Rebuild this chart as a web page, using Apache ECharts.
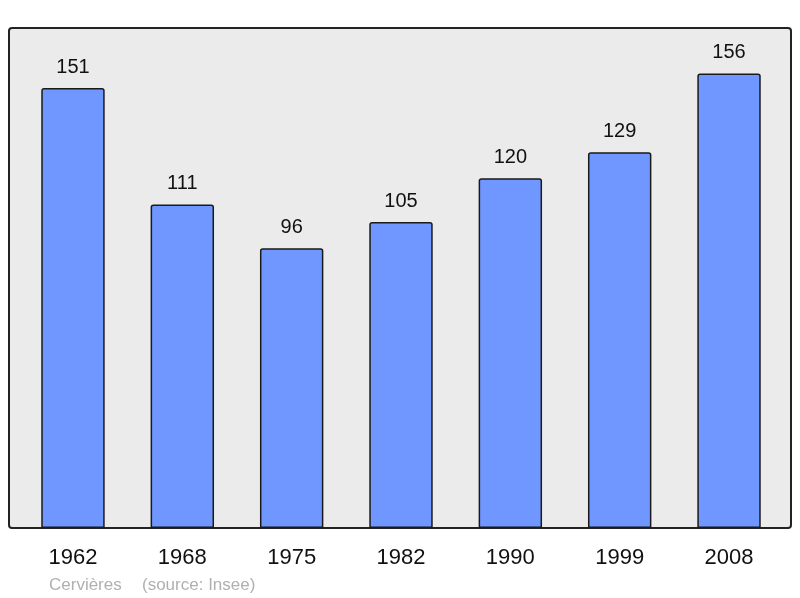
<!DOCTYPE html>
<html>
<head>
<meta charset="utf-8">
<script src="https://cdn.jsdelivr.net/npm/echarts@6/dist/echarts.min.js"></script>
<style>
  html, body { margin: 0; padding: 0; background: #fff; }
  #chart { width: 800px; height: 598px; }
</style>
</head>
<body>
<div id="chart"></div>
<script>
// population by census year
const years = ["1962", "1968", "1975", "1982", "1990", "1999", "2008"];
const population = [151, 111, 96, 105, 120, 129, 156];

const chart = echarts.init(document.getElementById("chart"));
chart.setOption({
  animation: false,
  backgroundColor: "#ffffff",
  textStyle: { fontFamily: "Liberation Sans, Arial, sans-serif" },
  graphic: [
    {
      type: "rect",
      z: -10,
      shape: { x: 9, y: 28, width: 782, height: 500, r: 3 },
      style: { fill: "#ebebeb", stroke: "#222222", lineWidth: 2 }
    },
    {
      type: "text",
      left: 49,
      top: 577,
      style: { text: "Cervières", fill: "#b0b0b0", fontSize: 17, fontFamily: "Liberation Sans, Arial, sans-serif" }
    },
    {
      type: "text",
      left: 142,
      top: 577,
      style: { text: "(source: Insee)", fill: "#b0b0b0", fontSize: 17, fontFamily: "Liberation Sans, Arial, sans-serif" }
    }
  ],
  grid: { left: 18.3, right: 16.3, top: 28, bottom: 70, containLabel: false },
  xAxis: {
    type: "category",
    data: years,
    axisLine: { show: false },
    axisTick: { show: false },
    axisLabel: { color: "#111", fontSize: 22, margin: 19 }
  },
  yAxis: {
    type: "value",
    min: 0,
    max: 171.6,
    show: false,
    splitLine: { show: false }
  },
  series: [
    {
      type: "bar",
      data: population,
      barWidth: "58%",
      itemStyle: {
        color: "#7097ff",
        borderColor: "#1a1a1a",
        borderWidth: 1.5,
        borderRadius: [2, 2, 0, 0]
      },
      label: {
        show: true,
        position: "top",
        distance: 11,
        color: "#111",
        fontSize: 20
      }
    }
  ]
});
</script>
</body>
</html>
